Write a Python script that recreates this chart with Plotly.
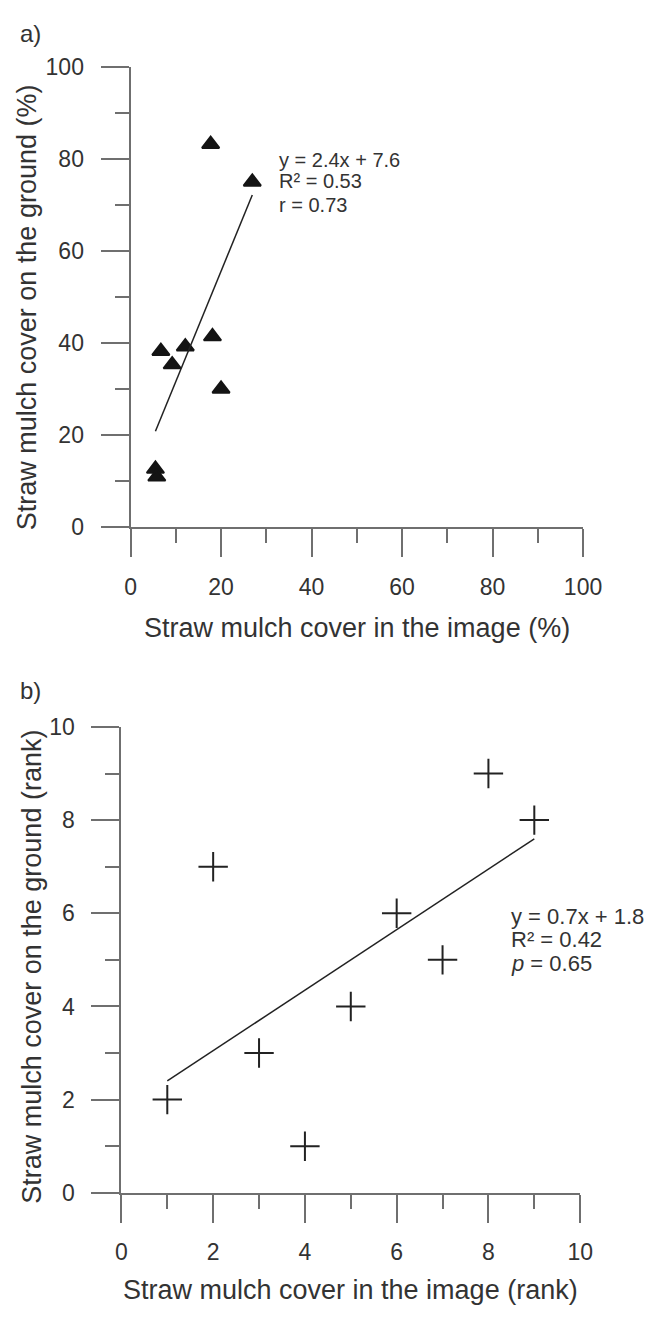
import plotly.graph_objects as go

W, H = 654, 1320

# ---------------- data ----------------
# Panel a: straw mulch cover (%)
a_image_cover = [17.7, 26.9, 18.1, 6.7, 12.1, 9.2, 20.0, 5.5, 5.8]
a_ground_cover = [83.2, 75.0, 41.4, 38.2, 39.2, 35.3, 30.0, 12.6, 10.9]
a_slope, a_intercept = 2.4, 7.6
a_stats = ["y = 2.4x + 7.6", "R² = 0.53", "r = 0.73"]
a_ticks = [0, 20, 40, 60, 80, 100]

# Panel b: ranks
b_image_rank = [1, 2, 3, 4, 5, 6, 7, 8, 9]
b_ground_rank = [2, 7, 3, 1, 4, 6, 5, 9, 8]
b_slope, b_intercept = 0.65, 1.75
b_stats = ["y = 0.7x + 1.8", "R² = 0.42", "<i>p</i> = 0.65"]
b_ticks = [0, 2, 4, 6, 8, 10]

# ---------------- styling ----------------
FONT = "Liberation Sans, Arial, Helvetica, sans-serif"
TXT = "#333333"
AXC = "#6f6f6f"
MK = "#141414"


def px_x(p):
    return p / W


def px_y(p):
    return 1 - p / H


fig = go.Figure()

# panel a
fig.add_trace(go.Scatter(
    x=a_image_cover, y=a_ground_cover, mode="markers",
    marker=dict(symbol="triangle-up", size=15, color=MK,
                line=dict(color=MK, width=2)),
    xaxis="x", yaxis="y", showlegend=False, cliponaxis=False))
ax0, ax1 = min(a_image_cover), max(a_image_cover)
fig.add_trace(go.Scatter(
    x=[ax0, ax1], y=[a_slope * ax0 + a_intercept, a_slope * ax1 + a_intercept],
    mode="lines", line=dict(color="#222222", width=1.5),
    xaxis="x", yaxis="y", showlegend=False))

# panel b
fig.add_trace(go.Scatter(
    x=b_image_rank, y=b_ground_rank, mode="markers",
    marker=dict(symbol="cross-thin", size=21, color="#222222",
                line=dict(color="#222222", width=2)),
    xaxis="x2", yaxis="y2", showlegend=False, cliponaxis=False))
bx0, bx1 = min(b_image_rank), max(b_image_rank)
fig.add_trace(go.Scatter(
    x=[bx0, bx1], y=[b_slope * bx0 + b_intercept, b_slope * bx1 + b_intercept],
    mode="lines", line=dict(color="#222222", width=1.5),
    xaxis="x2", yaxis="y2", showlegend=False))


def axis_style(ticks, minor_step, domain, anchor, rng, standoff):
    return dict(
        domain=domain, anchor=anchor, range=rng,
        tickmode="array", tickvals=ticks, ticktext=[str(t) for t in ticks],
        ticks="outside", ticklen=28, tickwidth=2, tickcolor=AXC,
        minor=dict(ticks="outside", ticklen=14, tickwidth=2, tickcolor=AXC,
                   dtick=minor_step, tick0=0, showgrid=False),
        showline=True, linecolor=AXC, linewidth=2,
        showgrid=False, zeroline=False,
        tickfont=dict(family=FONT, size=23, color=TXT),
        ticklabelstandoff=standoff,
    )


fig.update_layout(
    width=W, height=H,
    margin=dict(l=0, r=0, t=0, b=0),
    paper_bgcolor="white", plot_bgcolor="white",
    xaxis=axis_style(a_ticks, 10, [px_x(129.5), px_x(600)], "y", [0, 100], 10),
    yaxis=axis_style(a_ticks, 10, [px_y(524.3), px_y(55)], "x", [0, 100], 12),
    xaxis2=axis_style(b_ticks, 1, [px_x(120), px_x(597)], "y2", [0, 10], 10),
    yaxis2=axis_style(b_ticks, 1, [px_y(1203.5), px_y(728.3)], "x2", [0, 10], 12),
)

ann = []
# stats text
for txt, yv in zip(a_stats, [79.8, 75.1, 69.9]):
    ann.append(dict(x=32.4, y=yv, xref="x", yref="y", text=txt, showarrow=False,
                    xanchor="left", yanchor="middle",
                    font=dict(family=FONT, size=20, color=TXT)))
for txt, yv in zip(b_stats, [5.94, 5.43, 4.92]):
    ann.append(dict(x=8.44, y=yv, xref="x2", yref="y2", text=txt, showarrow=False,
                    xanchor="left", yanchor="middle",
                    font=dict(family=FONT, size=22, color=TXT)))

# panel labels
ann.append(dict(x=px_x(12), y=px_y(21), xref="paper", yref="paper", text="a)",
                showarrow=False, xanchor="left", yanchor="middle",
                font=dict(family=FONT, size=24, color=TXT)))
ann.append(dict(x=px_x(12), y=px_y(691), xref="paper", yref="paper", text="b)",
                showarrow=False, xanchor="left", yanchor="middle",
                font=dict(family=FONT, size=24, color=TXT)))

# axis titles
ann.append(dict(x=px_x(364.75), y=px_y(627), xref="paper", yref="paper",
                text="Straw mulch cover in the image (%)", showarrow=False,
                xanchor="center", yanchor="middle",
                font=dict(family=FONT, size=27, color=TXT)))
ann.append(dict(x=px_x(22), y=px_y(300), xref="paper", yref="paper",
                text="Straw mulch cover on the ground (%)", showarrow=False,
                textangle=-90, xanchor="center", yanchor="middle",
                font=dict(family=FONT, size=27, color=TXT)))
ann.append(dict(x=px_x(358.5), y=px_y(1303), xref="paper", yref="paper",
                text="Straw mulch cover in the image (rank)", showarrow=False,
                xanchor="center", yanchor="middle",
                font=dict(family=FONT, size=27, color=TXT)))
ann.append(dict(x=px_x(27), y=px_y(973), xref="paper", yref="paper",
                text="Straw mulch cover on the ground (rank)", showarrow=False,
                textangle=-90, xanchor="center", yanchor="middle",
                font=dict(family=FONT, size=27, color=TXT)))

fig.update_layout(annotations=ann)

fig.write_html("out.html",
               config={"displayModeBar": False},
               post_script="document.body.style.margin='0px';"
                           "document.documentElement.style.overflow='hidden';")
